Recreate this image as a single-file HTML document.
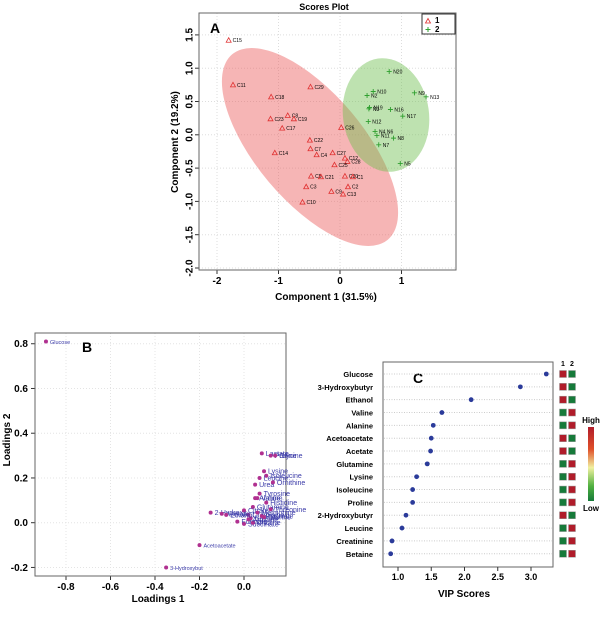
<!DOCTYPE html>
<html><head><meta charset="utf-8"><style>
body{margin:0;background:#fff;font-family:"Liberation Sans",sans-serif}
svg text{font-family:"Liberation Sans",sans-serif}
</style></head><body>
<svg id="fig" width="600" height="612" xmlns="http://www.w3.org/2000/svg"></svg>
<script>
// ---- Scores plot data ----
const groupCLabels=["C15","C11","C18","C29","C8","C23","C19","C17","C26","C22","C7","C14","C4","C27","C12","C28","C25","C5","C21","C20","C1","C3","C2","C9","C13","C10"];
const groupCX=[-1.81,-1.74,-1.12,-0.48,-0.85,-1.13,-0.75,-0.94,0.02,-0.49,-0.48,-1.06,-0.38,-0.12,0.08,0.12,-0.09,-0.47,-0.31,0.08,0.21,-0.55,0.13,-0.14,0.05,-0.61];
const groupCY=[1.42,0.75,0.57,0.72,0.29,0.24,0.24,0.10,0.11,-0.08,-0.21,-0.27,-0.30,-0.27,-0.35,-0.40,-0.45,-0.62,-0.63,-0.62,-0.63,-0.78,-0.78,-0.85,-0.89,-1.01];
const groupNLabels=["N20","N10","N9","N13","N2","N19","N3","N16","N17","N12","N4 N6","N11","N8","N7","N5"];
const groupNX=[0.80,0.54,1.21,1.40,0.44,0.48,0.47,0.82,1.02,0.46,0.57,0.60,0.87,0.63,0.98];
const groupNY=[0.95,0.65,0.63,0.57,0.59,0.41,0.39,0.38,0.28,0.20,0.05,-0.01,-0.05,-0.15,-0.43];
const scoreXTicks=[-2,-1,0,1];
const scoreYTicks=[1.5,1.0,0.5,0.0,-0.5,-1.0,-1.5,-2.0];
// ---- Loadings data ----
const loadLabels=["Glucose","Acetoacetate","3-Hydroxybut","2-Hydroxy","Lactate","Proline","Glycine","Lysine","Isoleucine","Leucine","Urea","Ornithine","Tyrosine","Alanine","Valine","Glutamine","Citrate","Creatinine","Betaine","Acetate","Ethanol","Formate","Pyruvate","Succinate","Histidine","Threonine","Choline","Methionine","Arginine","Taurine"];
const load1=[-0.89,-0.20,-0.35,-0.15,0.08,0.12,0.14,0.09,0.10,0.07,0.05,0.13,0.07,0.05,0.06,0.04,0.0,0.02,0.03,-0.10,-0.08,-0.03,0.08,0.0,0.10,0.12,0.04,0.06,0.02,0.09];
const load2=[0.81,-0.10,-0.20,0.045,0.31,0.30,0.30,0.23,0.21,0.20,0.17,0.18,0.13,0.11,0.11,0.07,0.055,0.035,0.02,0.04,0.035,0.005,0.03,-0.005,0.09,0.06,0.0,0.045,0.015,0.025];
const loadXTicks=[-0.8,-0.6,-0.4,-0.2,0.0];
const loadYTicks=[0.8,0.6,0.4,0.2,0.0,-0.2];
// ---- VIP data ----
const vipNames=["Glucose","3-Hydroxybutyr","Ethanol","Valine","Alanine","Acetoacetate","Acetate","Glutamine","Lysine","Isoleucine","Proline","2-Hydroxybutyr","Leucine","Creatinine","Betaine"];
const vipScores=[3.23,2.84,2.10,1.66,1.53,1.50,1.49,1.44,1.28,1.22,1.22,1.12,1.06,0.91,0.89];
const vipHighGroup=[1,1,1,2,2,1,1,2,2,2,2,1,2,2,2];
const vipXTicks=[1.0,1.5,2.0,2.5,3.0];

const svg=document.getElementById('fig');
const NS="http://www.w3.org/2000/svg";
function mk(tag,attrs,parent,text){const e=document.createElementNS(NS,tag);for(const k in attrs)e.setAttribute(k,attrs[k]);if(text!==undefined)e.textContent=text;(parent||svg).appendChild(e);return e;}

// ===== Plot A =====
const ax=v=>340+v*61.5, ay=v=>134.8-v*66.6;
let g=mk('g',{});


let t=mk('text',{x:324,y:10,'text-anchor':'middle','font-size':9,'font-weight':'bold'},g,'Scores Plot');

scoreXTicks.forEach(v=>{mk('line',{x1:ax(v),x2:ax(v),y1:13,y2:270,stroke:'#ddd','stroke-dasharray':'1,2'},g);
 mk('line',{x1:ax(v),x2:ax(v),y1:270,y2:274,stroke:'#333'},g);
 const tt=mk('text',{x:ax(v),y:284,'text-anchor':'middle','font-size':10,'font-weight':'bold'},g,String(v));
 });
scoreYTicks.forEach(v=>{mk('line',{y1:ay(v),y2:ay(v),x1:199,x2:456,stroke:'#ddd','stroke-dasharray':'1,2'},g);
 mk('line',{y1:ay(v),y2:ay(v),x1:195,x2:199,stroke:'#333'},g);
 const tt=mk('text',{x:190,y:ay(v),'text-anchor':'middle','font-size':10,'font-weight':'bold',transform:`rotate(-90 190 ${ay(v)})`,'dominant-baseline':'middle'},g,v.toFixed(1));
 });
let e1=mk('ellipse',{cx:310,cy:147,rx:121,ry:54,transform:'rotate(50 310 147)',fill:'rgba(235,90,90,0.45)'},g);

let e2=mk('ellipse',{cx:386,cy:115,rx:43,ry:57,transform:'rotate(-8 386 115)',fill:'rgba(110,190,80,0.45)'},g);

mk('rect',{x:199,y:13,width:257,height:257,fill:'none',stroke:'#666'},g);
mk('text',{x:210,y:33,'font-size':14,'font-weight':'bold'},g,'A');
groupCLabels.forEach((l,i)=>{const x=ax(groupCX[i]),y=ay(groupCY[i]);
 const p=mk('path',{d:`M${x},${y-2.5}L${x+2.5},${y+2}L${x-2.5},${y+2}Z`,fill:'none',stroke:'#e03030','stroke-width':0.8},g);
 
 mk('text',{x:x+4,y:y+2,'font-size':5},g,l);});
groupNLabels.forEach((l,i)=>{const x=ax(groupNX[i]),y=ay(groupNY[i]);
 const p=mk('path',{d:`M${x-2.5},${y}H${x+2.5}M${x},${y-2.5}V${y+2.5}`,stroke:'#30a030','stroke-width':0.9},g);
 
 mk('text',{x:x+4,y:y+2,'font-size':5},g,l);});
let lg=mk('g',{},g);
mk('rect',{x:422,y:14,width:33,height:20,fill:'#fff',stroke:'#333'},lg);
mk('path',{d:'M428,18.5L430.5,23L425.5,23Z',fill:'none',stroke:'#e03030','stroke-width':0.8},lg);
mk('text',{x:435,y:23,'font-size':8,'font-weight':'bold'},lg,'1');
mk('path',{d:'M425.5,29.5H430.5M428,27V32',stroke:'#30a030'},lg);
mk('text',{x:435,y:32,'font-size':8,'font-weight':'bold'},lg,'2');
t=mk('text',{x:326,y:300,'text-anchor':'middle','font-size':10,'font-weight':'bold'},g,'Component 1 (31.5%)');

t=mk('text',{x:178,y:142,'text-anchor':'middle','font-size':10,'font-weight':'bold',transform:'rotate(-90 178 142)'},g,'Component 2 (19.2%)');


// ===== Plot B =====
const bx=v=>244+v*222.5, by=v=>522.7-v*223.7;
g=mk('g',{});


loadXTicks.forEach(v=>{mk('line',{x1:bx(v),x2:bx(v),y1:333,y2:576,stroke:'#e4e4e4','stroke-dasharray':'1,2'},g);
 mk('line',{x1:bx(v),x2:bx(v),y1:576,y2:580,stroke:'#333'},g);
 const tt=mk('text',{x:bx(v),y:590,'text-anchor':'middle','font-size':10,'font-weight':'bold'},g,v.toFixed(1));
 });
loadYTicks.forEach(v=>{mk('line',{y1:by(v),y2:by(v),x1:35,x2:286,stroke:'#e4e4e4','stroke-dasharray':'1,2'},g);
 mk('line',{y1:by(v),y2:by(v),x1:31,x2:35,stroke:'#333'},g);
 const tt=mk('text',{x:28,y:by(v)+3.5,'text-anchor':'end','font-size':10,'font-weight':'bold'},g,v.toFixed(1));
 });
mk('rect',{x:35,y:333,width:251,height:243,fill:'none',stroke:'#666'},g);
mk('text',{x:82,y:352,'font-size':14,'font-weight':'bold'},g,'B');
loadLabels.forEach((l,i)=>{const x=bx(load1[i]),y=by(load2[i]);
 const c=mk('circle',{cx:x,cy:y,r:2,fill:'#b03090'},g);
 
 mk('text',{x:x+4,y:y+2.5,'font-size':i<3?5.5:7,fill:'#3a3aa8'},g,l);});
t=mk('text',{x:158,y:602,'text-anchor':'middle','font-size':10,'font-weight':'bold'},g,'Loadings 1');

t=mk('text',{x:10,y:440,'text-anchor':'middle','font-size':10,'font-weight':'bold',transform:'rotate(-90 10 440)'},g,'Loadings 2');


// ===== Plot C =====
const cx=v=>398+(v-1)*66.5, cy=i=>374+i*12.84;
g=mk('g',{});


mk('rect',{x:383,y:362,width:170,height:205,fill:'#fff',stroke:'#666'},g);
mk('text',{x:413,y:383,'font-size':14,'font-weight':'bold'},g,'C');
vipXTicks.forEach(v=>{mk('line',{x1:cx(v),x2:cx(v),y1:567,y2:571,stroke:'#333'},g);
 const tt=mk('text',{x:cx(v),y:580,'text-anchor':'middle','font-size':9,'font-weight':'bold'},g,v.toFixed(1));
 });
vipNames.forEach((n,i)=>{const y=cy(i);
 mk('line',{x1:384,x2:552,y1:y,y2:y,stroke:'#ccc','stroke-dasharray':'1,1.5'},g);
 const tt=mk('text',{x:373,y:y+3,'text-anchor':'end','font-size':7.5,'font-weight':'bold'},g,n);
 
 const c=mk('circle',{cx:cx(vipScores[i]),cy:y,r:2.4,fill:'#2b3b9a'},g);
 
 const red='#b01c2a',grn='#167a3a';
 const r1=mk('rect',{x:559.5,y:y-3.5,width:7,height:7,fill:vipHighGroup[i]===1?red:grn,stroke:'#999','stroke-width':0.5},g);
 
 const r2=mk('rect',{x:568.5,y:y-3.5,width:7,height:7,fill:vipHighGroup[i]===2?red:grn,stroke:'#999','stroke-width':0.5},g);
 });
mk('text',{x:563,y:366,'text-anchor':'middle','font-size':7,'font-weight':'bold'},g,'1');
mk('text',{x:572,y:366,'text-anchor':'middle','font-size':7,'font-weight':'bold'},g,'2');
const defs=mk('defs',{});
const lgd=mk('linearGradient',{id:'hl',x1:0,y1:0,x2:0,y2:1},defs);
[['0','#b01c2a'],['0.3','#e0502a'],['0.55','#f0f0a0'],['0.8','#50b040'],['1','#167a3a']].forEach(s=>mk('stop',{offset:s[0],'stop-color':s[1]},lgd));
const cb=mk('rect',{x:588,y:427,width:6,height:74,fill:'url(#hl)'},g);

mk('text',{x:591,y:423,'text-anchor':'middle','font-size':8,'font-weight':'bold'},g,'High');
mk('text',{x:591,y:511,'text-anchor':'middle','font-size':8,'font-weight':'bold'},g,'Low');
t=mk('text',{x:464,y:597,'text-anchor':'middle','font-size':10,'font-weight':'bold'},g,'VIP Scores');

</script>
</body></html>
